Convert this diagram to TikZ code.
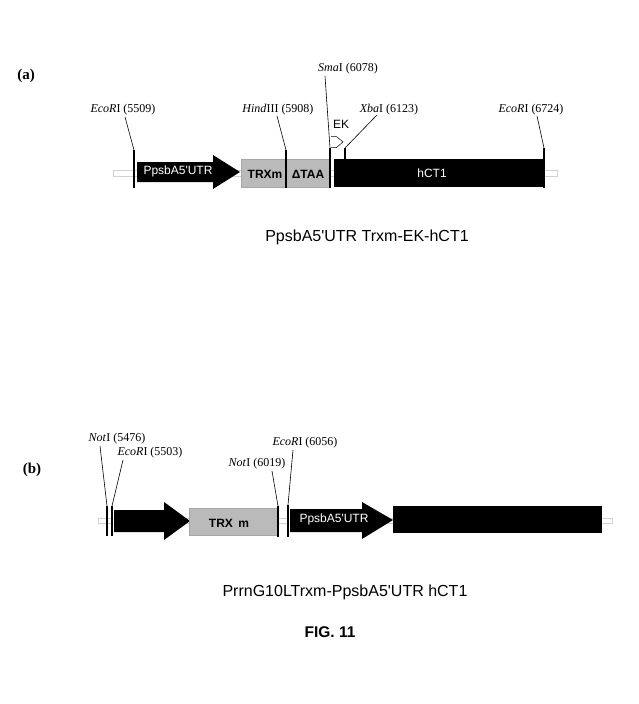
\documentclass[tikz,border=0pt]{standalone}
\usepackage{fontspec}
\setmainfont{Liberation Serif}
\setsansfont{Liberation Sans}
\usetikzlibrary{positioning}

\begin{document}
\begin{tikzpicture}[
  x=1pt, y=-1pt,
  site/.style={font=\fontsize{12}{14}\selectfont, inner sep=1pt},
  cut/.style={line width=2.6pt},
  lead/.style={line width=0.6pt},
  gene/.style={fill=black},
  utr/.style={font=\sffamily\fontsize{12}{14}\selectfont, text=white, inner sep=0pt},
  trx/.style={fill=black!27, draw=black!35, line width=0.3pt},
  boxlabel/.style={font=\sffamily\bfseries\fontsize{12}{14}\selectfont, inner sep=0pt},
  backbone/.style={draw=black!18, line width=0.5pt},
  caption/.style={font=\sffamily\fontsize{16}{19}\selectfont},
  part/.style={font=\bfseries\fontsize{15}{18}\selectfont},
]
  \useasboundingbox (0,0) rectangle (638,704);

  % ---------- (a) ----------
  \node[part] (pa) at (26,76) {(a)};
  \draw[backbone] (113,170) rectangle (557,176);

  % Elements
  \fill[gene] (137,162) -- (213,162) -- (213,155) -- (240,172) -- (213,189) -- (213,182) -- (137,182) -- cycle;
  \node[utr] (utrA) at (178,171) {PpsbA5\textquotesingle UTR};
  \filldraw[trx] (241,159) rectangle (330,187);
  \node[boxlabel] (trxA) at (265,174) {TRXm};
  \node[boxlabel] (taaA) at (308,174) {ΔTAA};
  \fill[gene] (334,159) rectangle (543,187);
  \node[utr] (hctA) at (432,173) {hCT1};

  % Sites
  \node[site] (ecoA) at (123,110) {\textit{EcoR}I (5509)};
  \node[site] (hindA) at (278,110) {\textit{Hind}III (5908)};
  \node[site] (smaA) at (348,69) {\textit{Sma}I (6078)};
  \node[site] (xbaA) at (389,110) {\textit{Xba}I (6123)};
  \node[site] (ecoAr) at (531,110) {\textit{EcoR}I (6724)};
  \node[font=\sffamily\fontsize{12}{14}\selectfont, inner sep=0pt] (ek) at (341,124) {EK};

  \coordinate (cEcoA) at (134,150);
  \coordinate (cHindA) at (286,150);
  \coordinate (cSmaA) at (330,148);
  \coordinate (cXbaA) at (345,148);
  \coordinate (cEcoAr) at (544,148);

  \draw[lead] (125,117) -- (cEcoA);
  \draw[lead] (277,116) -- (cHindA);
  \draw[lead] (325,76) -- (cSmaA);
  \draw[lead] (377,115) -- (cXbaA);
  \draw[lead] (537,116) -- (cEcoAr);

  \draw[cut] (cEcoA) -- ++(0,38);
  \draw[cut] (cHindA) -- ++(0,38);
  \draw[cut] (cSmaA) -- ++(0,40);
  \draw[cut] (cXbaA) -- ++(0,39);
  \draw[cut] (cEcoAr) -- ++(0,40);

  % EK cleavage mark
  \draw[line width=0.5pt, fill=white, line join=miter] (331,136.5) -- (336.5,136.5) -- (343,142) -- (336.5,147.5) -- (331,147.5);

  \node[caption] (capA) at (367,237) {PpsbA5\textquotesingle UTR Trxm-EK-hCT1};

  % ---------- (b) ----------
  \node[part] (pb) at (32,470) {(b)};
  \draw[backbone] (98,518) rectangle (612,523);

  % Elements
  \fill[gene] (114,510) -- (164,510) -- (164,502) -- (190,521) -- (164,540) -- (164,532) -- (114,532) -- cycle;
  \filldraw[trx] (189,508) rectangle (278,535);
  \node[boxlabel] (trxB) at (229,523) {TRX\hspace{0.45em}m};
  \fill[gene] (290,509) -- (362,509) -- (362,502) -- (393,520) -- (362,539) -- (362,532) -- (290,532) -- cycle;
  \node[utr] (utrB) at (334,519) {PpsbA5\textquotesingle UTR};
  \fill[gene] (393,506) rectangle (602,533);

  % Sites
  \node[site] (notB) at (117,439) {\textit{Not}I (5476)};
  \node[site] (ecoB) at (150,453) {\textit{EcoR}I (5503)};
  \node[site] (notBr) at (257,464) {\textit{Not}I (6019)};
  \node[site] (ecoBr) at (305,443) {\textit{EcoR}I (6056)};

  \coordinate (cNotB) at (107,506);
  \coordinate (cEcoB) at (112,506);
  \coordinate (cNotBr) at (278,506);
  \coordinate (cEcoBr) at (288,505);

  \draw[lead] (100,446) -- (cNotB);
  \draw[lead] (123,460) -- (cEcoB);
  \draw[lead] (272,471) -- (cNotBr);
  \draw[lead] (293,450) -- (cEcoBr);

  \draw[cut, line width=2.2pt] (cNotB) -- ++(0,30);
  \draw[cut, line width=2.2pt] (cEcoB) -- ++(0,30);
  \draw[cut, line width=2.2pt] (cNotBr) -- ++(0,31);
  \draw[cut, line width=2.2pt] (cEcoBr) -- ++(0,32);

  \node[caption] (capB) at (345,592) {PrrnG10LTrxm-PpsbA5\textquotesingle UTR hCT1};
  \node[caption, font=\sffamily\bfseries\fontsize{15.5}{18}\selectfont] (fig) at (330,632) {FIG. 11};
\end{tikzpicture}
\end{document}
